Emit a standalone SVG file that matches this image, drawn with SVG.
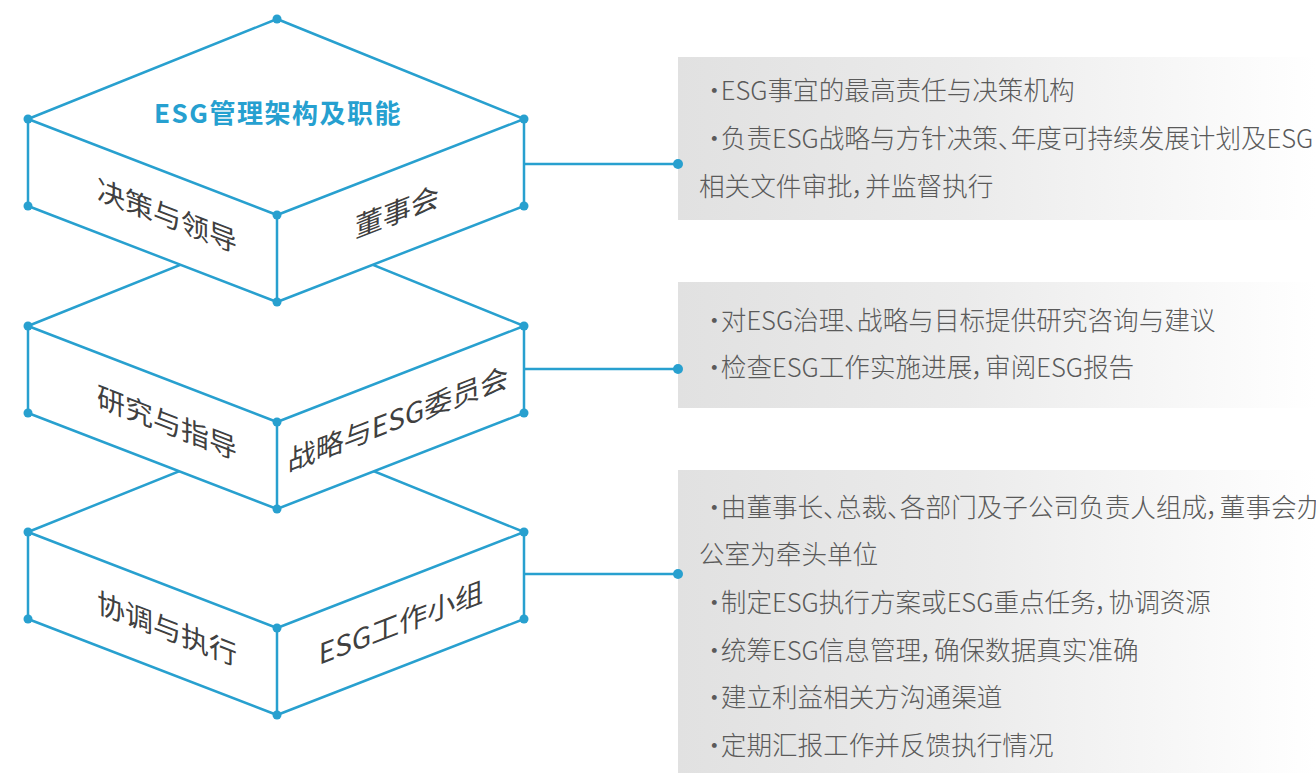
<svg xmlns="http://www.w3.org/2000/svg" width="1316" height="773" viewBox="0 0 1316 773">
<defs>
<linearGradient id="panel" x1="0" y1="0" x2="1" y2="0">
<stop offset="0" stop-color="#e1e1e1"/>
<stop offset="0.45" stop-color="#ebebeb"/>
<stop offset="1" stop-color="#ffffff"/>
</linearGradient>
<style>
.edge{stroke:#28a0cf;stroke-width:2.5;fill:none;stroke-linejoin:round;stroke-linecap:round}
.face{fill:#ffffff;stroke:none}
.dot{fill:#28a0cf}
.conn{stroke:#28a0cf;stroke-width:2.5;fill:none}
.lbl{font-family:"Noto Sans CJK SC","Noto Sans",sans-serif;font-size:28px;fill:#404040;text-anchor:middle}
.title{font-family:"Noto Sans CJK SC","Noto Sans",sans-serif;font-size:26px;font-weight:700;fill:#26a0d0;text-anchor:middle;letter-spacing:1.5px}
.desc{font-family:"Noto Sans CJK SC","Noto Sans",sans-serif;font-size:25.6px;font-weight:300;fill:#5a5a5a;font-feature-settings:"palt"}
</style>
</defs>

<g id="panels">
<rect x="678" y="57" width="638" height="163" fill="url(#panel)"/>
<rect x="678" y="282" width="638" height="126" fill="url(#panel)"/>
<rect x="678" y="470" width="638" height="303" fill="url(#panel)"/>
</g>

<g id="panel-text-1">
<text class="desc" x="708" y="100">·ESG事宜的最高责任与决策机构</text>
<text class="desc" x="708" y="148">·负责ESG战略与方针决策、年度可持续发展计划及ESG</text>
<text class="desc" x="699" y="196">相关文件审批，并监督执行</text>
</g>
<g id="panel-text-2">
<text class="desc" x="708" y="330">·对ESG治理、战略与目标提供研究咨询与建议</text>
<text class="desc" x="708" y="377">·检查ESG工作实施进展，审阅ESG报告</text>
</g>
<g id="panel-text-3">
<text class="desc" x="708" y="517">·由董事长、总裁、各部门及子公司负责人组成，董事会办</text>
<text class="desc" x="699" y="564">公室为牵头单位</text>
<text class="desc" x="708" y="612">·制定ESG执行方案或ESG重点任务，协调资源</text>
<text class="desc" x="708" y="660">·统筹ESG信息管理，确保数据真实准确</text>
<text class="desc" x="708" y="707">·建立利益相关方沟通渠道</text>
<text class="desc" x="708" y="755">·定期汇报工作并反馈执行情况</text>
</g>

<g id="connectors">
<line class="conn" x1="524" y1="164" x2="678" y2="164"/>
<circle class="dot" cx="678" cy="164" r="5"/>
<line class="conn" x1="524" y1="369" x2="678" y2="369"/>
<circle class="dot" cx="678" cy="369" r="5"/>
<line class="conn" x1="524" y1="574" x2="678" y2="574"/>
<circle class="dot" cx="678" cy="574" r="5"/>
</g>

<g id="box-working-group">
<polygon class="face" points="277,432 524,532 524,619 277,715 28,619 28,532"/>
<path class="edge" d="M28,532 L277,432 L524,532 L277,628 Z M28,532 L28,619 L277,715 L524,619 L524,532 M277,628 L277,715"/>
<circle class="dot" cx="28" cy="532" r="4.5"/>
<circle class="dot" cx="28" cy="619" r="4.5"/>
<circle class="dot" cx="524" cy="532" r="4.5"/>
<circle class="dot" cx="524" cy="619" r="4.5"/>
<circle class="dot" cx="277" cy="628" r="4.5"/>
<circle class="dot" cx="277" cy="715" r="4.5"/>
<g transform="translate(167,629) skewY(21.1)"><text class="lbl" x="0" y="10">协调与执行</text></g>
<g transform="translate(401,623) skewY(-21.2)"><text class="lbl" x="0" y="10">ESG工作小组</text></g>
</g>

<g id="box-committee">
<polygon class="face" points="277,226 524,326 524,413 277,509 28,413 28,326"/>
<path class="edge" d="M28,326 L277,226 L524,326 L277,422 Z M28,326 L28,413 L277,509 L524,413 L524,326 M277,422 L277,509"/>
<circle class="dot" cx="28" cy="326" r="4.5"/>
<circle class="dot" cx="28" cy="413" r="4.5"/>
<circle class="dot" cx="524" cy="326" r="4.5"/>
<circle class="dot" cx="524" cy="413" r="4.5"/>
<circle class="dot" cx="277" cy="422" r="4.5"/>
<circle class="dot" cx="277" cy="509" r="4.5"/>
<g transform="translate(167,423) skewY(21.1)"><text class="lbl" x="0" y="10">研究与指导</text></g>
<g transform="translate(398,419) skewY(-21.2)"><text class="lbl" x="0" y="10">战略与ESG委员会</text></g>
</g>

<g id="box-board">
<polygon class="face" points="277,19 524,119 524,206 277,302 28,206 28,119"/>
<path class="edge" d="M28,119 L277,19 L524,119 L277,215 Z M28,119 L28,206 L277,302 L524,206 L524,119 M277,215 L277,302"/>
<circle class="dot" cx="277" cy="19" r="4.5"/>
<circle class="dot" cx="28" cy="119" r="4.5"/>
<circle class="dot" cx="28" cy="206" r="4.5"/>
<circle class="dot" cx="524" cy="119" r="4.5"/>
<circle class="dot" cx="524" cy="206" r="4.5"/>
<circle class="dot" cx="277" cy="215" r="4.5"/>
<circle class="dot" cx="277" cy="302" r="4.5"/>
<text class="title" x="278" y="123">ESG管理架构及职能</text>
<g transform="translate(167,216) skewY(21.1)"><text class="lbl" x="0" y="10">决策与领导</text></g>
<g transform="translate(397,212) skewY(-21.2)"><text class="lbl" x="0" y="10">董事会</text></g>
</g>
</svg>
